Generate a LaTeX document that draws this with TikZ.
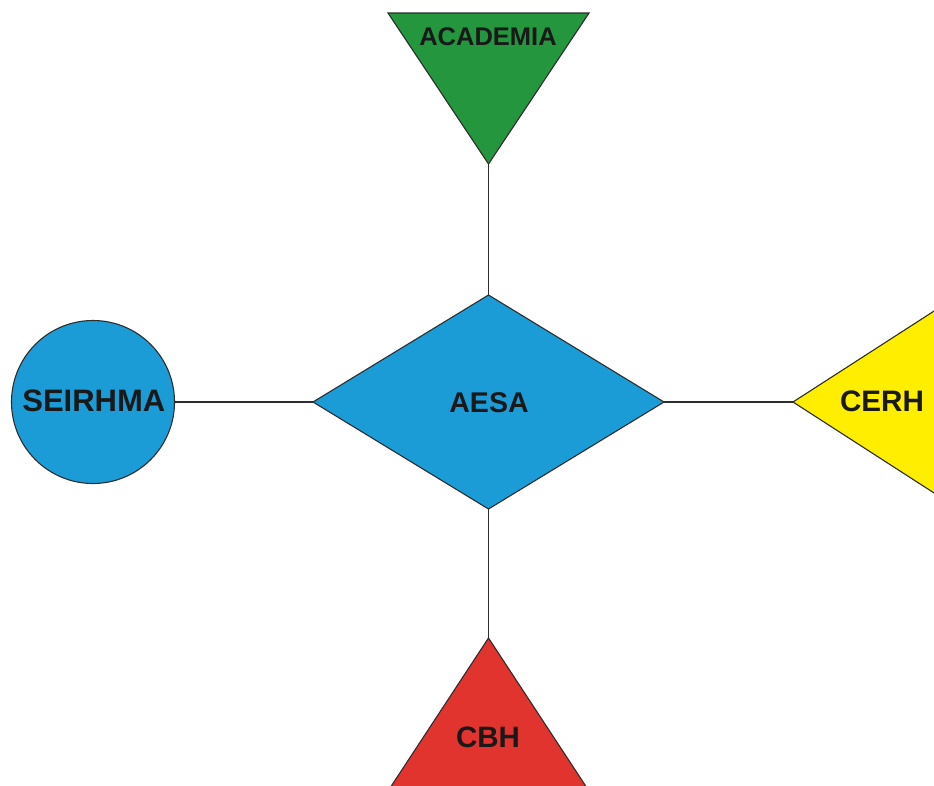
\documentclass[tikz,border=0pt]{standalone}
\usepackage{fontspec}
\setmainfont{Liberation Sans}
\definecolor{acadgreen}{RGB}{35,150,62}
\definecolor{aesablue}{RGB}{28,156,214}
\definecolor{cerhyellow}{RGB}{255,238,0}
\definecolor{cbhred}{RGB}{226,52,46}
\definecolor{edgegray}{RGB}{45,45,45}
\definecolor{txt}{RGB}{25,25,25}
\tikzset{
  shapeline/.style={draw=edgegray, line width=1.1pt, line join=miter},
  link/.style={draw=edgegray, line width=1.1pt},
  lbl/.style={text=txt, inner sep=0pt, font=\bfseries},
}
\begin{document}
\begin{tikzpicture}[x=1pt,y=-1pt]
\useasboundingbox (0,0) rectangle (934,785);
\clip (0,0) rectangle (934,785);
\fill[white] (0,0) rectangle (934,785);
% anchor points
\coordinate (acadapex) at (488.5,164);
\coordinate (aesatop) at (488.5,295);
\coordinate (aesaleft) at (313,402);
\coordinate (aesaright) at (664,402);
\coordinate (aesabottom) at (488.5,509);
\coordinate (cerhapex) at (793,402);
\coordinate (cbhapex) at (488.5,638);
% connectors
\draw[link] (acadapex) -- (aesatop);
\draw[link] (aesabottom) -- (cbhapex);
\draw[link] (aesaright) -- (cerhapex);
% ACADEMIA triangle
\path[shapeline, fill=acadgreen] (388,13) -- (589,13) -- (acadapex) -- cycle;
\node[lbl, font=\bfseries\fontsize{25.5}{30}\selectfont] (academia) at (488,37) {ACADEMIA};
% AESA diamond
\path[shapeline, fill=aesablue] (aesatop) -- (aesaright) -- (aesabottom) -- (aesaleft) -- cycle;
\node[lbl, font=\bfseries\fontsize{28.5}{34}\selectfont] (aesa) at (489,402.5) {AESA};
% SEIRHMA circle
\node[circle, shapeline, fill=aesablue, minimum size=163pt, inner sep=0pt] (seirhma) at (93,402) {};
\node[lbl, font=\bfseries\fontsize{31}{36}\selectfont] (seirhmatext) at (93.8,401) {SEIRHMA};
\draw[link] (seirhma.east) -- (aesaleft);
% CERH triangle
\path[shapeline, fill=cerhyellow] (cerhapex) -- (1000,268.5) -- (1000,535.5) -- cycle;
\node[lbl, font=\bfseries\fontsize{29.6}{35}\selectfont] (cerh) at (882,401.7) {CERH};
% CBH triangle
\path[shapeline, fill=cbhred] (cbhapex) -- (594.9,800) -- (382.1,800) -- cycle;
\node[lbl, font=\bfseries\fontsize{29.5}{35}\selectfont] (cbh) at (488,737) {CBH};
\end{tikzpicture}
\end{document}
